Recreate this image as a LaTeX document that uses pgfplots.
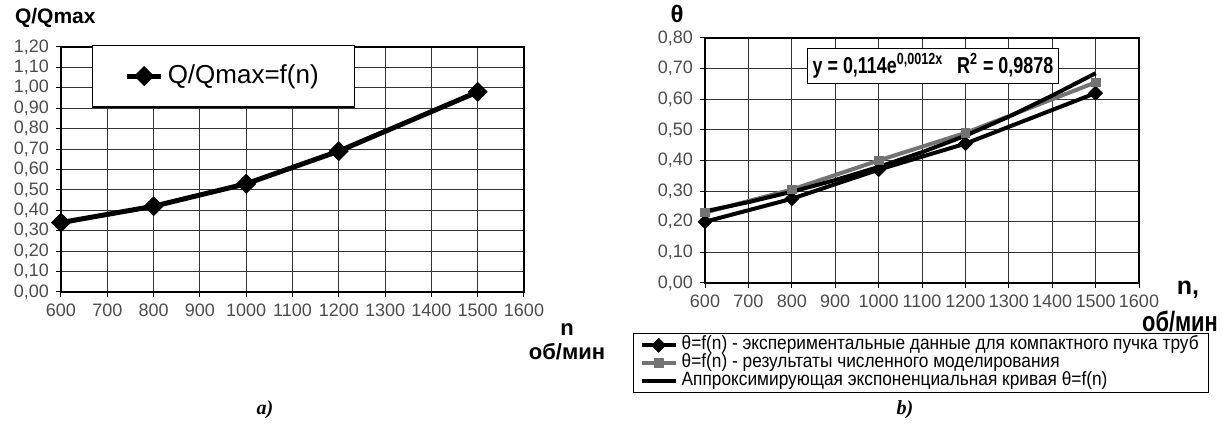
\documentclass[border=0pt]{standalone}
\usepackage{fontspec}
\setmainfont{Liberation Sans}
\newfontfamily\narrow[FakeStretch=0.9]{Liberation Sans}
\newfontfamily\narrowb[FakeStretch=0.78]{Liberation Sans Bold}
\newfontfamily\timesf{Liberation Serif}
\usepackage{pgfplots}
\pgfplotsset{compat=1.18}

\pgfplotsset{
  chart/.style={
    scale only axis,
    anchor=south west,
    xmin=600, xmax=1600,
    xtick={600,700,800,900,1000,1100,1200,1300,1400,1500,1600},
    grid=major,
    major grid style={black!80, line width=0.5pt},
    axis line style={black, line width=0.6pt},
    tick style={black, line width=0.5pt},
    tick align=outside,
    major tick length=2.5pt,
    xtick pos=bottom, ytick pos=left,
    /pgf/number format/assume math mode=true,
    ticklabel style={font=\fontsize{9}{10}\selectfont, text=black!70},
    xticklabel style={/pgf/number format/1000 sep={}},
    yticklabel style={/pgf/number format/.cd, fixed, fixed zerofill, precision=2, use comma},
  },
}

% 1 px of the reference = 0.5pt
\begin{document}
\begin{tikzpicture}
\useasboundingbox (0,0) rectangle (611.5pt,-215.5pt);

% ---- a) ----
\begin{axis}[chart,
  at={(30.5pt,-146pt)}, width=231.5pt, height=122.5pt,
  ymin=0, ymax=1.2,
  ytick={0,0.1,0.2,0.3,0.4,0.5,0.6,0.7,0.8,0.9,1.0,1.1,1.2},
  legend style={at={(rel axis cs:0.067,1.01)}, anchor=north west,
    draw=black, line width=0.6pt, fill=white,
    font=\fontsize{13}{15}\selectfont, inner xsep=16pt, inner ysep=8pt},
]
\addplot[black, line width=2.5pt, mark=square*, mark size=3.3pt,
  mark options={rotate=45, line width=0.5pt}]
  coordinates {(600,0.34) (800,0.42) (1000,0.53) (1200,0.69) (1500,0.98)};
\addlegendentry{Q/Qmax=f(n)}
\end{axis}

\node[anchor=west, font=\bfseries\fontsize{10.5}{12}\selectfont] at (4pt,-9pt) {Q/Qmax};
\node[font=\bfseries\fontsize{11}{13}\selectfont] at (283.5pt,-165pt) {n};
\node[font=\bfseries\fontsize{11}{13}\selectfont] at (283.5pt,-176pt) {об/мин};
\node[font=\timesf\bfseries\itshape\fontsize{10}{12}\selectfont] at (132.5pt,-205pt) {a)};

% ---- b) ----
\begin{axis}[chart,
  at={(352.5pt,-141.5pt)}, width=217pt, height=122.5pt,
  ymin=0, ymax=0.8,
  ytick={0,0.1,0.2,0.3,0.4,0.5,0.6,0.7,0.8},
  legend cell align=left,
  legend style={at={(rel axis cs:-0.166,-0.204)}, anchor=north west,
    draw=black, line width=0.6pt, fill=white,
    font=\narrow\fontsize{9.6}{11}\selectfont, inner xsep=3pt, inner ysep=1.5pt,
    row sep=0pt,
    nodes={text height=6.2pt, text depth=1.6pt, inner ysep=0.5pt, inner xsep=2pt}},
]
\addplot[black, line width=2pt, mark=square*, mark size=2.4pt,
  mark options={rotate=45, line width=0.5pt}]
  coordinates {(600,0.20) (800,0.275) (1000,0.37) (1200,0.455) (1500,0.62)};
\addlegendentry{θ=f(n) - экспериментальные данные для компактного пучка труб\hspace{10pt}}
\addplot[black!55, line width=2pt, mark=square*, mark size=2.2pt,
  mark options={line width=0.5pt}]
  coordinates {(600,0.23) (800,0.305) (1000,0.40) (1200,0.49) (1500,0.655)};
\addlegendentry{θ=f(n) - результаты численного моделирования}
\addplot[black, line width=2pt]
  coordinates {(600,0.234) (700,0.264) (800,0.298) (900,0.336) (1000,0.379)
    (1100,0.427) (1200,0.481) (1300,0.543) (1400,0.612) (1500,0.685)};
\addlegendentry{Аппроксимирующая экспоненциальная кривая θ=f(n)}
\node[draw=black, line width=0.6pt, fill=white, anchor=north west, inner sep=2.5pt,
  font=\narrowb\fontsize{11.5}{13}\selectfont]
  at (rel axis cs:0.235,0.96)
  {y = 0,114e\textsuperscript{0,0012x}\hspace{0.6em}R\textsuperscript{2} = 0,9878};
\end{axis}

\node[font=\bfseries\fontsize{12}{14}\selectfont] at (338.5pt,-7pt) {θ};
\node[font=\bfseries\fontsize{12.5}{14}\selectfont] at (594pt,-145pt) {n,};
\node[font=\narrowb\fontsize{14}{16}\selectfont] at (590pt,-161pt) {об/мин};
\node[font=\timesf\bfseries\itshape\fontsize{10}{12}\selectfont] at (452.5pt,-205pt) {b)};
\end{tikzpicture}
\end{document}
